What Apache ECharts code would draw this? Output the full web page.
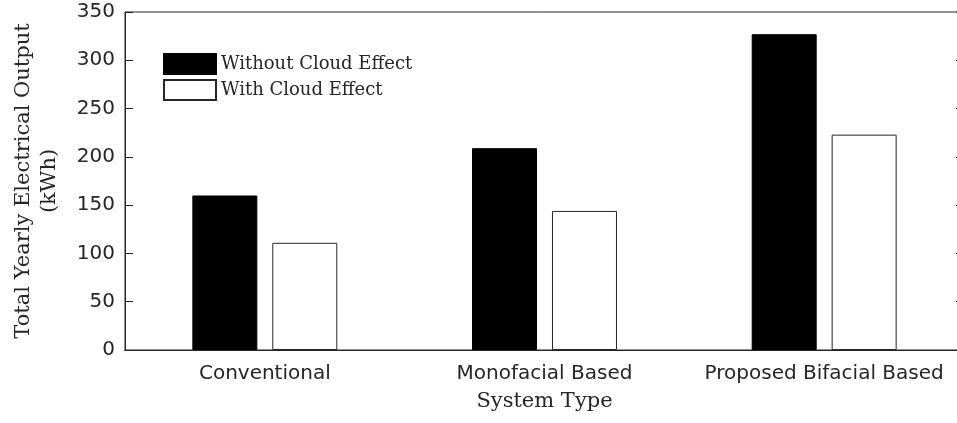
<!DOCTYPE html>
<html>
<head>
<meta charset="utf-8">
<script src="https://cdn.jsdelivr.net/npm/echarts@6/dist/echarts.min.js"></script>
<style>html,body{margin:0;padding:0;background:#fff}#c{width:957px;height:423px}</style>
</head>
<body>
<div id="c"></div>
<script>
const categories = ['Conventional', 'Monofacial Based', 'Proposed Bifacial Based'];
const withoutCloud = [160, 209, 327];
const withCloud = [111, 144, 223];
const seriesNames = ['Without Cloud Effect', 'With Cloud Effect'];
const yTicks = { min: 0, max: 350, interval: 50 };

const ink = '#262626';
const chart = echarts.init(document.getElementById('c'), null, { renderer: 'canvas' });
chart.setOption({
  animation: false,
  backgroundColor: '#fff',
  grid: { left: 125, top: 12, width: 839, height: 338, outerBoundsMode: 'none', containLabel: false,
          show: true, borderColor: ink, borderWidth: 1 },
  legend: {
    orient: 'vertical', left: 163, top: 53, itemWidth: 52, itemHeight: 20, itemGap: 4,
    padding: 0, icon: 'rect',
    textStyle: { fontFamily: 'DejaVu Serif', fontSize: 18, color: ink },
    data: seriesNames
  },
  xAxis: [{
    type: 'category', data: categories, position: 'bottom',
    axisLine: { lineStyle: { color: ink } },
    axisTick: { inside: true, alignWithLabel: true, length: 7, lineStyle: { color: ink } },
    axisLabel: { fontFamily: 'DejaVu Sans', fontSize: 20, color: ink, margin: 14, interval: 0 },
    name: 'System Type', nameLocation: 'middle', nameGap: 41,
    nameTextStyle: { fontFamily: 'DejaVu Serif', fontSize: 21, color: ink }
  }, {
    type: 'category', data: categories, position: 'top',
    axisLine: { lineStyle: { color: ink } },
    axisTick: { inside: true, alignWithLabel: true, length: 7, lineStyle: { color: ink } },
    axisLabel: { show: false }
  }],
  yAxis: [{
    type: 'value', min: yTicks.min, max: yTicks.max, interval: yTicks.interval, position: 'left',
    splitLine: { show: false },
    axisLine: { show: true, lineStyle: { color: ink } },
    axisTick: { show: true, inside: true, length: 8, lineStyle: { color: ink } },
    axisLabel: { fontFamily: 'DejaVu Sans', fontSize: 20, color: ink, margin: 10 },
    name: 'Total Yearly Electrical Output\n(kWh)', nameLocation: 'middle', nameGap: 62,
    nameTextStyle: { fontFamily: 'DejaVu Serif', fontSize: 21, color: ink, lineHeight: 26 }
  }, {
    type: 'value', min: yTicks.min, max: yTicks.max, interval: yTicks.interval, position: 'right',
    splitLine: { show: false },
    axisLine: { show: true, lineStyle: { color: ink } },
    axisTick: { show: true, inside: true, length: 8, lineStyle: { color: ink } },
    axisLabel: { show: false }
  }],
  series: [{
    name: seriesNames[0], type: 'bar', data: withoutCloud, barWidth: 65, barGap: '23%',
    itemStyle: { color: '#000', borderColor: '#000', borderWidth: 1 }
  }, {
    name: seriesNames[1], type: 'bar', data: withCloud, barWidth: 65, barGap: '23%',
    itemStyle: { color: '#fff', borderColor: ink, borderWidth: 1 }
  }]
});
</script>
</body>
</html>
